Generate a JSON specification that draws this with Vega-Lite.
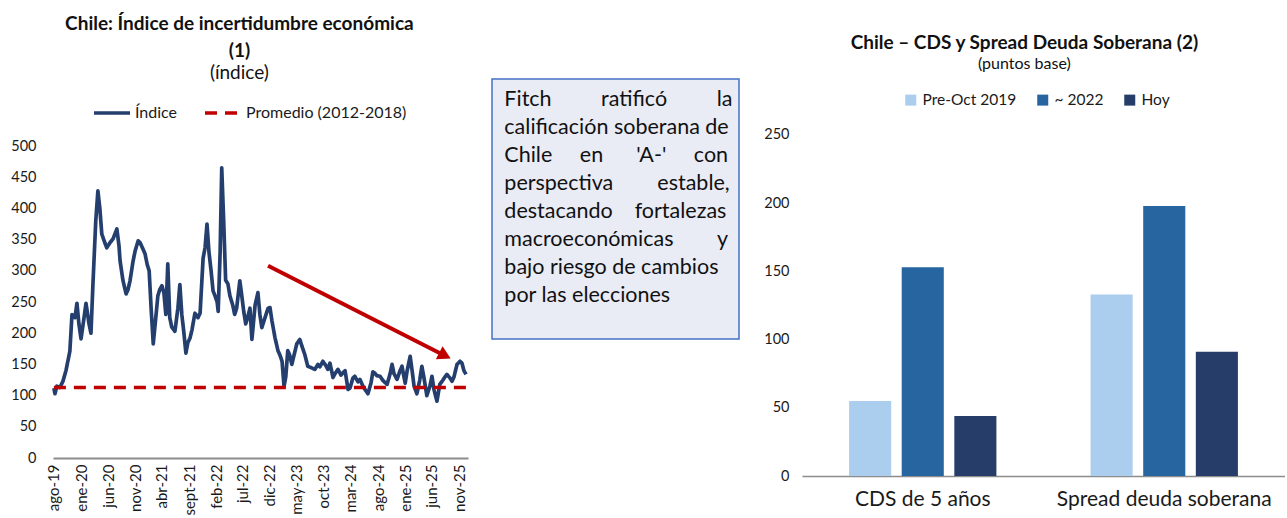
{
  "$schema": "https://vega.github.io/schema/vega-lite/v6.json",
  "background": "white",
  "padding": {"left": 10, "top": 15, "right": 0, "bottom": 0},
  "spacing": 23,
  "config": {
    "font": "Lato",
    "view": {"stroke": null},
    "axis": {"labelColor": "#1a1a1a", "labelFont": "Lato"},
    "legend": {"labelFont": "Lato", "labelColor": "#1a1a1a"},
    "title": {"font": "Lato", "color": "#111111", "subtitleFont": "Lato", "subtitleColor": "#111111"}
  },
  "datasets": {
    "indice": [
      {"fecha": "2019-08-01", "valor": 112, "serie": "Índice"},
      {"fecha": "2019-08-07", "valor": 103, "serie": "Índice"},
      {"fecha": "2019-08-18", "valor": 115, "serie": "Índice"},
      {"fecha": "2019-09-04", "valor": 113, "serie": "Índice"},
      {"fecha": "2019-09-21", "valor": 123, "serie": "Índice"},
      {"fecha": "2019-10-08", "valor": 140, "serie": "Índice"},
      {"fecha": "2019-10-30", "valor": 171, "serie": "Índice"},
      {"fecha": "2019-11-11", "valor": 230, "serie": "Índice"},
      {"fecha": "2019-11-28", "valor": 225, "serie": "Índice"},
      {"fecha": "2019-12-09", "valor": 248, "serie": "Índice"},
      {"fecha": "2019-12-20", "valor": 215, "serie": "Índice"},
      {"fecha": "2020-01-01", "valor": 191, "serie": "Índice"},
      {"fecha": "2020-01-18", "valor": 225, "serie": "Índice"},
      {"fecha": "2020-01-29", "valor": 248, "serie": "Índice"},
      {"fecha": "2020-02-15", "valor": 215, "serie": "Índice"},
      {"fecha": "2020-02-26", "valor": 200, "serie": "Índice"},
      {"fecha": "2020-03-08", "valor": 278, "serie": "Índice"},
      {"fecha": "2020-03-24", "valor": 380, "serie": "Índice"},
      {"fecha": "2020-04-05", "valor": 428, "serie": "Índice"},
      {"fecha": "2020-04-16", "valor": 400, "serie": "Índice"},
      {"fecha": "2020-04-27", "valor": 359, "serie": "Índice"},
      {"fecha": "2020-05-14", "valor": 345, "serie": "Índice"},
      {"fecha": "2020-05-25", "valor": 337, "serie": "Índice"},
      {"fecha": "2020-06-12", "valor": 345, "serie": "Índice"},
      {"fecha": "2020-06-29", "valor": 351, "serie": "Índice"},
      {"fecha": "2020-07-21", "valor": 367, "serie": "Índice"},
      {"fecha": "2020-08-02", "valor": 340, "serie": "Índice"},
      {"fecha": "2020-08-08", "valor": 316, "serie": "Índice"},
      {"fecha": "2020-08-24", "valor": 285, "serie": "Índice"},
      {"fecha": "2020-09-11", "valor": 263, "serie": "Índice"},
      {"fecha": "2020-09-22", "valor": 270, "serie": "Índice"},
      {"fecha": "2020-10-03", "valor": 284, "serie": "Índice"},
      {"fecha": "2020-10-20", "valor": 315, "serie": "Índice"},
      {"fecha": "2020-11-01", "valor": 332, "serie": "Índice"},
      {"fecha": "2020-11-18", "valor": 348, "serie": "Índice"},
      {"fecha": "2020-11-29", "valor": 345, "serie": "Índice"},
      {"fecha": "2020-12-15", "valor": 335, "serie": "Índice"},
      {"fecha": "2020-12-27", "valor": 327, "serie": "Índice"},
      {"fecha": "2021-01-08", "valor": 310, "serie": "Índice"},
      {"fecha": "2021-01-19", "valor": 300, "serie": "Índice"},
      {"fecha": "2021-01-30", "valor": 240, "serie": "Índice"},
      {"fecha": "2021-02-11", "valor": 183, "serie": "Índice"},
      {"fecha": "2021-02-27", "valor": 230, "serie": "Índice"},
      {"fecha": "2021-03-09", "valor": 260, "serie": "Índice"},
      {"fecha": "2021-03-20", "valor": 270, "serie": "Índice"},
      {"fecha": "2021-04-01", "valor": 276, "serie": "Índice"},
      {"fecha": "2021-04-12", "valor": 265, "serie": "Índice"},
      {"fecha": "2021-04-23", "valor": 230, "serie": "Índice"},
      {"fecha": "2021-05-04", "valor": 311, "serie": "Índice"},
      {"fecha": "2021-05-15", "valor": 225, "serie": "Índice"},
      {"fecha": "2021-05-26", "valor": 210, "serie": "Índice"},
      {"fecha": "2021-06-13", "valor": 203, "serie": "Índice"},
      {"fecha": "2021-06-30", "valor": 240, "serie": "Índice"},
      {"fecha": "2021-07-11", "valor": 278, "serie": "Índice"},
      {"fecha": "2021-07-22", "valor": 230, "serie": "Índice"},
      {"fecha": "2021-08-03", "valor": 200, "serie": "Índice"},
      {"fecha": "2021-08-14", "valor": 168, "serie": "Índice"},
      {"fecha": "2021-08-25", "valor": 185, "serie": "Índice"},
      {"fecha": "2021-09-06", "valor": 192, "serie": "Índice"},
      {"fecha": "2021-09-17", "valor": 205, "serie": "Índice"},
      {"fecha": "2021-10-04", "valor": 232, "serie": "Índice"},
      {"fecha": "2021-10-21", "valor": 225, "serie": "Índice"},
      {"fecha": "2021-11-02", "valor": 232, "serie": "Índice"},
      {"fecha": "2021-11-19", "valor": 320, "serie": "Índice"},
      {"fecha": "2021-11-30", "valor": 337, "serie": "Índice"},
      {"fecha": "2021-12-11", "valor": 375, "serie": "Índice"},
      {"fecha": "2021-12-22", "valor": 330, "serie": "Índice"},
      {"fecha": "2022-01-03", "valor": 300, "serie": "Índice"},
      {"fecha": "2022-01-14", "valor": 268, "serie": "Índice"},
      {"fecha": "2022-01-25", "valor": 260, "serie": "Índice"},
      {"fecha": "2022-02-06", "valor": 250, "serie": "Índice"},
      {"fecha": "2022-02-12", "valor": 235, "serie": "Índice"},
      {"fecha": "2022-02-23", "valor": 330, "serie": "Índice"},
      {"fecha": "2022-03-04", "valor": 465, "serie": "Índice"},
      {"fecha": "2022-03-15", "valor": 380, "serie": "Índice"},
      {"fecha": "2022-03-26", "valor": 285, "serie": "Índice"},
      {"fecha": "2022-04-08", "valor": 279, "serie": "Índice"},
      {"fecha": "2022-04-19", "valor": 260, "serie": "Índice"},
      {"fecha": "2022-05-05", "valor": 245, "serie": "Índice"},
      {"fecha": "2022-05-16", "valor": 230, "serie": "Índice"},
      {"fecha": "2022-05-27", "valor": 240, "serie": "Índice"},
      {"fecha": "2022-06-14", "valor": 284, "serie": "Índice"},
      {"fecha": "2022-06-25", "valor": 260, "serie": "Índice"},
      {"fecha": "2022-07-06", "valor": 235, "serie": "Índice"},
      {"fecha": "2022-07-17", "valor": 215, "serie": "Índice"},
      {"fecha": "2022-07-28", "valor": 225, "serie": "Índice"},
      {"fecha": "2022-08-10", "valor": 240, "serie": "Índice"},
      {"fecha": "2022-08-21", "valor": 190, "serie": "Índice"},
      {"fecha": "2022-09-08", "valor": 245, "serie": "Índice"},
      {"fecha": "2022-09-24", "valor": 265, "serie": "Índice"},
      {"fecha": "2022-10-05", "valor": 230, "serie": "Índice"},
      {"fecha": "2022-10-16", "valor": 209, "serie": "Índice"},
      {"fecha": "2022-11-03", "valor": 225, "serie": "Índice"},
      {"fecha": "2022-11-20", "valor": 240, "serie": "Índice"},
      {"fecha": "2022-12-01", "valor": 241, "serie": "Índice"},
      {"fecha": "2022-12-12", "valor": 220, "serie": "Índice"},
      {"fecha": "2022-12-29", "valor": 193, "serie": "Índice"},
      {"fecha": "2023-01-15", "valor": 172, "serie": "Índice"},
      {"fecha": "2023-01-26", "valor": 165, "serie": "Índice"},
      {"fecha": "2023-02-07", "valor": 155, "serie": "Índice"},
      {"fecha": "2023-02-18", "valor": 115, "serie": "Índice"},
      {"fecha": "2023-02-28", "valor": 130, "serie": "Índice"},
      {"fecha": "2023-03-11", "valor": 172, "serie": "Índice"},
      {"fecha": "2023-03-22", "valor": 165, "serie": "Índice"},
      {"fecha": "2023-04-03", "valor": 150, "serie": "Índice"},
      {"fecha": "2023-04-20", "valor": 170, "serie": "Índice"},
      {"fecha": "2023-05-01", "valor": 183, "serie": "Índice"},
      {"fecha": "2023-05-18", "valor": 190, "serie": "Índice"},
      {"fecha": "2023-05-29", "valor": 180, "serie": "Índice"},
      {"fecha": "2023-06-15", "valor": 166, "serie": "Índice"},
      {"fecha": "2023-07-02", "valor": 147, "serie": "Índice"},
      {"fecha": "2023-07-19", "valor": 145, "serie": "Índice"},
      {"fecha": "2023-08-11", "valor": 142, "serie": "Índice"},
      {"fecha": "2023-08-28", "valor": 150, "serie": "Índice"},
      {"fecha": "2023-09-08", "valor": 146, "serie": "Índice"},
      {"fecha": "2023-09-25", "valor": 155, "serie": "Índice"},
      {"fecha": "2023-10-12", "valor": 148, "serie": "Índice"},
      {"fecha": "2023-10-23", "valor": 142, "serie": "Índice"},
      {"fecha": "2023-11-04", "valor": 152, "serie": "Índice"},
      {"fecha": "2023-11-21", "valor": 129, "serie": "Índice"},
      {"fecha": "2023-12-02", "valor": 135, "serie": "Índice"},
      {"fecha": "2023-12-19", "valor": 142, "serie": "Índice"},
      {"fecha": "2024-01-05", "valor": 133, "serie": "Índice"},
      {"fecha": "2024-01-28", "valor": 140, "serie": "Índice"},
      {"fecha": "2024-02-14", "valor": 110, "serie": "Índice"},
      {"fecha": "2024-02-25", "valor": 112, "serie": "Índice"},
      {"fecha": "2024-03-12", "valor": 128, "serie": "Índice"},
      {"fecha": "2024-03-23", "valor": 131, "serie": "Índice"},
      {"fecha": "2024-04-10", "valor": 122, "serie": "Índice"},
      {"fecha": "2024-04-21", "valor": 126, "serie": "Índice"},
      {"fecha": "2024-05-08", "valor": 115, "serie": "Índice"},
      {"fecha": "2024-05-19", "valor": 110, "serie": "Índice"},
      {"fecha": "2024-06-05", "valor": 103, "serie": "Índice"},
      {"fecha": "2024-06-22", "valor": 120, "serie": "Índice"},
      {"fecha": "2024-07-03", "valor": 138, "serie": "Índice"},
      {"fecha": "2024-07-14", "valor": 136, "serie": "Índice"},
      {"fecha": "2024-07-25", "valor": 132, "serie": "Índice"},
      {"fecha": "2024-08-12", "valor": 131, "serie": "Índice"},
      {"fecha": "2024-08-29", "valor": 124, "serie": "Índice"},
      {"fecha": "2024-09-21", "valor": 118, "serie": "Índice"},
      {"fecha": "2024-10-08", "valor": 135, "serie": "Índice"},
      {"fecha": "2024-10-19", "valor": 150, "serie": "Índice"},
      {"fecha": "2024-10-30", "valor": 135, "serie": "Índice"},
      {"fecha": "2024-11-16", "valor": 126, "serie": "Índice"},
      {"fecha": "2024-12-03", "valor": 140, "serie": "Índice"},
      {"fecha": "2024-12-14", "valor": 147, "serie": "Índice"},
      {"fecha": "2024-12-25", "valor": 130, "serie": "Índice"},
      {"fecha": "2025-01-01", "valor": 120, "serie": "Índice"},
      {"fecha": "2025-01-12", "valor": 140, "serie": "Índice"},
      {"fecha": "2025-01-29", "valor": 163, "serie": "Índice"},
      {"fecha": "2025-02-09", "valor": 140, "serie": "Índice"},
      {"fecha": "2025-02-20", "valor": 115, "serie": "Índice"},
      {"fecha": "2025-03-08", "valor": 103, "serie": "Índice"},
      {"fecha": "2025-03-24", "valor": 125, "serie": "Índice"},
      {"fecha": "2025-04-05", "valor": 147, "serie": "Índice"},
      {"fecha": "2025-04-16", "valor": 130, "serie": "Índice"},
      {"fecha": "2025-05-03", "valor": 100, "serie": "Índice"},
      {"fecha": "2025-05-20", "valor": 115, "serie": "Índice"},
      {"fecha": "2025-06-01", "valor": 131, "serie": "Índice"},
      {"fecha": "2025-06-12", "valor": 110, "serie": "Índice"},
      {"fecha": "2025-06-29", "valor": 91, "serie": "Índice"},
      {"fecha": "2025-07-15", "valor": 118, "serie": "Índice"},
      {"fecha": "2025-08-02", "valor": 125, "serie": "Índice"},
      {"fecha": "2025-08-13", "valor": 130, "serie": "Índice"},
      {"fecha": "2025-08-24", "valor": 134, "serie": "Índice"},
      {"fecha": "2025-09-11", "valor": 128, "serie": "Índice"},
      {"fecha": "2025-09-22", "valor": 123, "serie": "Índice"},
      {"fecha": "2025-10-03", "valor": 130, "serie": "Índice"},
      {"fecha": "2025-10-20", "valor": 150, "serie": "Índice"},
      {"fecha": "2025-11-06", "valor": 155, "serie": "Índice"},
      {"fecha": "2025-11-17", "valor": 152, "serie": "Índice"},
      {"fecha": "2025-11-28", "valor": 140, "serie": "Índice"},
      {"fecha": "2025-12-10", "valor": 134, "serie": "Índice"},
      {"fecha": "2019-08-01", "valor": 113, "serie": "Promedio (2012-2018)"},
      {"fecha": "2025-12-10", "valor": 113, "serie": "Promedio (2012-2018)"}
    ],
    "flecha": [
      {"fecha": "2022-11-20", "valor": 308, "fecha2": "2025-08-13", "valor2": 164}
    ],
    "punta": [
      {"fecha": "2025-08-13", "valor": 164}
    ],
    "cuadro": [
      {"linea": 1, "texto": "Fitch\u00a0\u00a0\u00a0\u00a0\u00a0\u00a0\u00a0\u00a0\u00a0ratificó\u00a0\u00a0\u00a0\u00a0\u00a0\u00a0\u00a0\u00a0\u00a0la"},
      {"linea": 2, "texto": "calificación soberana de"},
      {"linea": 3, "texto": "Chile\u00a0\u00a0\u00a0\u00a0\u00a0en\u00a0\u00a0\u00a0\u00a0\u00a0\u00a0'A-'\u00a0\u00a0\u00a0\u00a0\u00a0con"},
      {"linea": 4, "texto": "perspectiva\u00a0\u00a0\u00a0\u00a0\u00a0\u00a0\u00a0\u00a0estable,"},
      {"linea": 5, "texto": "destacando\u00a0\u00a0\u00a0\u00a0fortalezas"},
      {"linea": 6, "texto": "macroeconómicas\u00a0\u00a0\u00a0\u00a0\u00a0\u00a0\u00a0\u00a0y"},
      {"linea": 7, "texto": "bajo riesgo de cambios"},
      {"linea": 8, "texto": "por las elecciones"}
    ],
    "bonos": [
      {"indicador": "CDS de 5 años", "periodo": "Pre-Oct 2019", "pb": 55},
      {"indicador": "CDS de 5 años", "periodo": "~ 2022", "pb": 153},
      {"indicador": "CDS de 5 años", "periodo": "Hoy", "pb": 44},
      {"indicador": "Spread deuda soberana", "periodo": "Pre-Oct 2019", "pb": 133},
      {"indicador": "Spread deuda soberana", "periodo": "~ 2022", "pb": 198},
      {"indicador": "Spread deuda soberana", "periodo": "Hoy", "pb": 91}
    ]
  },
  "resolve": {
    "scale": {"color": "independent", "strokeDash": "independent", "x": "independent", "y": "independent"},
    "legend": {"color": "independent", "strokeDash": "independent"}
  },
  "hconcat": [
    {
      "width": 415,
      "height": 379,
      "title": {
        "text": ["Chile: Índice de incertidumbre económica", "(1)"],
        "subtitle": "(índice)",
        "anchor": "middle",
        "frame": "bounds",
        "fontSize": 19,
        "fontWeight": "bold",
        "lineHeight": 27,
        "subtitleFontSize": 19,
        "subtitlePadding": 3,
        "offset": -4
      },
      "encoding": {
        "x": {
          "field": "fecha", "type": "temporal", "title": null,
          "scale": {"domain": ["2019-07-27", "2025-12-21"]},
          "axis": {
            "values": [
              {"year": 2019, "month": 8, "date": 1}, {"year": 2020, "month": 1, "date": 1},
              {"year": 2020, "month": 6, "date": 1}, {"year": 2020, "month": 11, "date": 1},
              {"year": 2021, "month": 4, "date": 1}, {"year": 2021, "month": 9, "date": 1},
              {"year": 2022, "month": 2, "date": 1}, {"year": 2022, "month": 7, "date": 1},
              {"year": 2022, "month": 12, "date": 1}, {"year": 2023, "month": 5, "date": 1},
              {"year": 2023, "month": 10, "date": 1}, {"year": 2024, "month": 3, "date": 1},
              {"year": 2024, "month": 8, "date": 1}, {"year": 2025, "month": 1, "date": 1},
              {"year": 2025, "month": 6, "date": 1}, {"year": 2025, "month": 11, "date": 1}
            ],
            "labelExpr": "['ene','feb','mar','abr','may','jun','jul','ago','sept','oct','nov','dic'][month(datum.value)] + '-' + timeFormat(datum.value, '%y')",
            "labelAngle": 270,
            "labelFontSize": 15,
            "labelPadding": 6,
            "ticks": false,
            "grid": false,
            "domainColor": "#8c8c8c",
            "domainWidth": 2,
            "labelOverlap": false,
            "labelBound": false,
            "labelFlush": false
          }
        },
        "y": {
          "field": "valor", "type": "quantitative", "title": null,
          "scale": {"domain": [0, 607.4], "nice": false, "zero": true},
          "axis": {
            "values": [0, 50, 100, 150, 200, 250, 300, 350, 400, 450, 500],
            "labelFontSize": 14.5,
            "labelPadding": 17,
            "ticks": false,
            "grid": false,
            "domain": false,
            "labelOverlap": false,
            "labelFlush": false
          }
        }
      },
      "layer": [
        {
          "data": {"name": "indice"},
          "mark": {"type": "line", "strokeWidth": 3.7, "strokeJoin": "round"},
          "encoding": {
            "color": {
              "field": "serie", "type": "nominal",
              "scale": {"domain": ["Índice", "Promedio (2012-2018)"], "range": ["#243f6e", "#c00000"]},
              "legend": {
                "orient": "none", "legendX": 39, "legendY": 14, "direction": "horizontal", "title": null,
                "symbolType": "stroke", "symbolSize": 1296, "symbolStrokeWidth": 3.5,
                "labelFontSize": 16, "labelOffset": 3, "columnPadding": 20, "labelLimit": 0, "padding": 0
              }
            },
            "strokeDash": {
              "field": "serie", "type": "nominal",
              "scale": {"domain": ["Índice", "Promedio (2012-2018)"], "range": [[1, 0], [12, 8]]},
              "legend": {
                "orient": "none", "legendX": 39, "legendY": 14, "direction": "horizontal", "title": null,
                "symbolType": "stroke", "symbolSize": 1296, "symbolStrokeWidth": 3.5,
                "labelFontSize": 16, "labelOffset": 3, "columnPadding": 20, "labelLimit": 0, "padding": 0
              }
            }
          }
        },
        {
          "data": {"name": "flecha"},
          "mark": {"type": "rule", "color": "#c00000", "strokeWidth": 4},
          "encoding": {
            "x2": {"field": "fecha2"},
            "y2": {"field": "valor2"}
          }
        },
        {
          "data": {"name": "punta"},
          "mark": {"type": "point", "shape": "triangle-right", "filled": true, "color": "#c00000", "opacity": 1, "size": 220, "angle": 27}
        }
      ]
    },
    {
      "width": 247,
      "height": 260,
      "view": {"fill": "#e9ebf5", "stroke": "#4472c4", "strokeWidth": 1.5},
      "data": {"name": "cuadro"},
      "mark": {"type": "text", "align": "left", "baseline": "alphabetic", "fontSize": 21.5, "font": "Lato", "color": "#111111"},
      "encoding": {
        "x": {"datum": 0.05, "type": "quantitative", "scale": {"domain": [0, 1]}, "axis": null},
        "y": {"field": "linea", "type": "quantitative", "scale": {"domain": [0.036, 9.32], "reverse": true, "nice": false, "zero": false}, "axis": null},
        "text": {"field": "texto"}
      }
    },
    {
      "width": 483,
      "height": 397,
      "data": {"name": "bonos"},
      "title": {
        "text": "Chile – CDS y Spread Deuda Soberana (2)",
        "subtitle": "(puntos base)",
        "anchor": "middle",
        "frame": "bounds",
        "fontSize": 19,
        "fontWeight": "bold",
        "subtitleFontSize": 16,
        "subtitlePadding": 3,
        "offset": 7
      },
      "mark": {"type": "bar"},
      "encoding": {
        "x": {
          "field": "indicador", "type": "nominal", "title": null,
          "sort": ["CDS de 5 años", "Spread deuda soberana"],
          "scale": {"paddingInner": 0.39, "paddingOuter": 0.195},
          "axis": {"labelAngle": 0, "labelFontSize": 21, "labelLimit": 0, "ticks": false, "domainColor": "#8c8c8c", "domainWidth": 1.5, "labelPadding": 12}
        },
        "xOffset": {
          "field": "periodo", "type": "nominal",
          "sort": ["Pre-Oct 2019", "~ 2022", "Hoy"],
          "scale": {"paddingInner": 0.2, "paddingOuter": 0}
        },
        "y": {
          "field": "pb", "type": "quantitative", "title": null,
          "scale": {"domain": [0, 291], "nice": false},
          "axis": {"values": [0, 50, 100, 150, 200, 250], "grid": false, "ticks": false, "domain": false, "labelFontSize": 14.5, "labelPadding": 13, "labelOverlap": false}
        },
        "color": {
          "field": "periodo", "type": "nominal",
          "sort": ["Pre-Oct 2019", "~ 2022", "Hoy"],
          "scale": {"domain": ["Pre-Oct 2019", "~ 2022", "Hoy"], "range": ["#abcdee", "#2765a1", "#253d68"]},
          "legend": {
            "orient": "none", "legendX": 101, "legendY": 13, "direction": "horizontal", "title": null,
            "symbolType": "square", "symbolSize": 121, "symbolStrokeWidth": 0,
            "labelFontSize": 15.5, "labelOffset": 4, "columnPadding": 18, "padding": 0
          }
        }
      }
    }
  ]
}
